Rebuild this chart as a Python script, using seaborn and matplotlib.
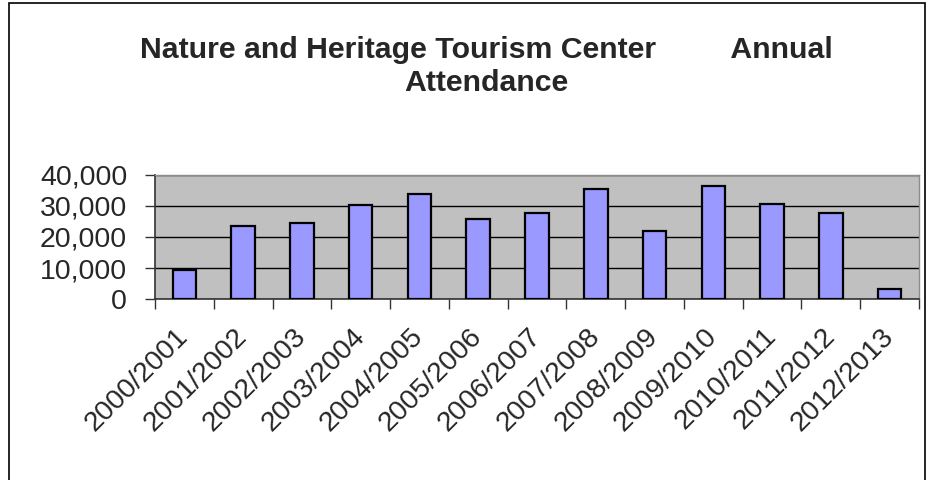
import matplotlib
matplotlib.use('Agg')
import matplotlib.pyplot as plt
import numpy as np
import pandas as pd
import seaborn as sns
from matplotlib.patches import Rectangle

# Data
seasons = ['2000/2001', '2001/2002', '2002/2003', '2003/2004', '2004/2005',
           '2005/2006', '2006/2007', '2007/2008', '2008/2009', '2009/2010',
           '2010/2011', '2011/2012', '2012/2013']
attendance = [9200, 23500, 24400, 30200, 34000, 25900, 27600,
              35500, 21900, 36400, 30600, 27700, 3300]
yticks = [0, 10000, 20000, 30000, 40000]

df = pd.DataFrame({'season': seasons, 'attendance': attendance})

sns.set_style('white')
plt.rcParams['font.family'] = ['Liberation Sans', 'DejaVu Sans']

W, H = 932, 480
fig = plt.figure(figsize=(W / 100, H / 100), dpi=100)
ax = fig.add_axes([155 / W, 1 - 299 / H, (919 - 155) / W, 124 / H])
ax.set_facecolor('#c0c0c0')

sns.barplot(data=df, x='season', y='attendance', ax=ax, color='#9999ff',
            saturation=1, width=0.4, edgecolor='black', linewidth=1.6, zorder=3)

ax.set_ylim(0, 40000)
ax.set_xlim(-0.5, len(seasons) - 0.5)
ax.set_yticks(yticks)
ax.set_yticklabels([f'{v:,}' for v in yticks], fontsize=20.5)
ax.yaxis.grid(True, color='black', linewidth=1.0, zorder=1)
ax.set_axisbelow(True)

# ticks at category boundaries, labels at category centres
ax.set_xticks(np.arange(-0.5, len(seasons), 1))
ax.set_xticklabels([])
ax.set_xticks(np.arange(len(seasons)), minor=True)
ax.set_xticklabels(seasons, minor=True, rotation=45, ha='right', va='center',
                   rotation_mode='anchor', fontsize=20.3)
ax.tick_params(axis='x', which='minor', length=0, pad=24)
ax.tick_params(axis='x', which='major', direction='out', length=7,
               width=1, color='#333333', bottom=True)
ax.tick_params(axis='y', direction='out', length=7, width=1,
               color='#333333', left=True, pad=13)
ax.set_xlabel('')
ax.set_ylabel('')

for side in ['left', 'bottom']:
    ax.spines[side].set_color('#333333')
    ax.spines[side].set_linewidth(1.2)
for side in ['top', 'right']:
    ax.spines[side].set_color('#8c8c8c')
    ax.spines[side].set_linewidth(1.0)

fig.text(486 / W, 1 - 36 / H,
         'Nature and Heritage Tourism Center         Annual\nAttendance',
         ha='center', va='top', fontsize=21.8, fontweight='bold',
         linespacing=1.22)

# outer chart frame
fig.patches.append(Rectangle((9 / W, -0.1), (925 - 9) / W, 1.1 - 3 / H,
                             transform=fig.transFigure, fill=False,
                             edgecolor='black', linewidth=1.2))

fig.savefig('out.png', dpi=100)
